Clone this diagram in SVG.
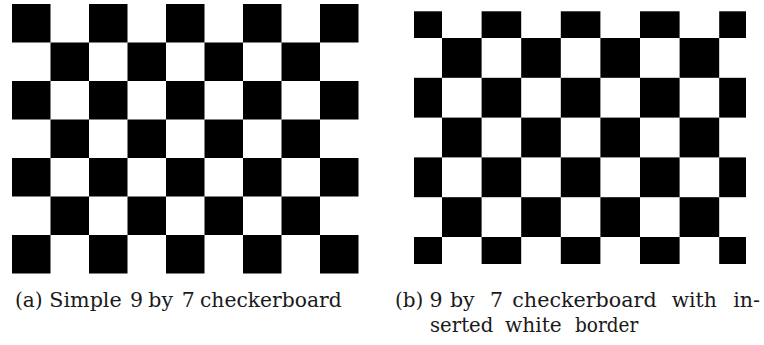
<svg xmlns="http://www.w3.org/2000/svg" width="764" height="345" viewBox="0 0 764 345">
<style>
.b{fill:#000}
.cap{font-family:"DejaVu Serif","Liberation Serif",serif;font-size:20.5px;fill:#1a1a1a}
</style>
<rect width="764" height="345" fill="#fff"/>
<g id="board-a">
<rect class="b" x="12" y="4" width="38.5" height="38.5"/><rect class="b" x="89" y="4" width="38.5" height="38.5"/><rect class="b" x="166" y="4" width="38.5" height="38.5"/><rect class="b" x="243" y="4" width="38.5" height="38.5"/><rect class="b" x="320" y="4" width="38.5" height="38.5"/>
<rect class="b" x="50.5" y="42.5" width="38.5" height="38.5"/><rect class="b" x="127.5" y="42.5" width="38.5" height="38.5"/><rect class="b" x="204.5" y="42.5" width="38.5" height="38.5"/><rect class="b" x="281.5" y="42.5" width="38.5" height="38.5"/>
<rect class="b" x="12" y="81" width="38.5" height="38.5"/><rect class="b" x="89" y="81" width="38.5" height="38.5"/><rect class="b" x="166" y="81" width="38.5" height="38.5"/><rect class="b" x="243" y="81" width="38.5" height="38.5"/><rect class="b" x="320" y="81" width="38.5" height="38.5"/>
<rect class="b" x="50.5" y="119.5" width="38.5" height="38.5"/><rect class="b" x="127.5" y="119.5" width="38.5" height="38.5"/><rect class="b" x="204.5" y="119.5" width="38.5" height="38.5"/><rect class="b" x="281.5" y="119.5" width="38.5" height="38.5"/>
<rect class="b" x="12" y="158" width="38.5" height="38.5"/><rect class="b" x="89" y="158" width="38.5" height="38.5"/><rect class="b" x="166" y="158" width="38.5" height="38.5"/><rect class="b" x="243" y="158" width="38.5" height="38.5"/><rect class="b" x="320" y="158" width="38.5" height="38.5"/>
<rect class="b" x="50.5" y="196.5" width="38.5" height="38.5"/><rect class="b" x="127.5" y="196.5" width="38.5" height="38.5"/><rect class="b" x="204.5" y="196.5" width="38.5" height="38.5"/><rect class="b" x="281.5" y="196.5" width="38.5" height="38.5"/>
<rect class="b" x="12" y="235" width="38.5" height="38.5"/><rect class="b" x="89" y="235" width="38.5" height="38.5"/><rect class="b" x="166" y="235" width="38.5" height="38.5"/><rect class="b" x="243" y="235" width="38.5" height="38.5"/><rect class="b" x="320" y="235" width="38.5" height="38.5"/>
</g>
<g id="board-b">
<rect class="b" x="414" y="11.3" width="28" height="26.7"/><rect class="b" x="481.6" y="11.3" width="39.6" height="26.7"/><rect class="b" x="560.8" y="11.3" width="39.6" height="26.7"/><rect class="b" x="640" y="11.3" width="39.6" height="26.7"/><rect class="b" x="719.2" y="11.3" width="26.8" height="26.7"/>
<rect class="b" x="442" y="38" width="39.6" height="39.8"/><rect class="b" x="521.2" y="38" width="39.6" height="39.8"/><rect class="b" x="600.4" y="38" width="39.6" height="39.8"/><rect class="b" x="679.6" y="38" width="39.6" height="39.8"/>
<rect class="b" x="414" y="77.8" width="28" height="39.8"/><rect class="b" x="481.6" y="77.8" width="39.6" height="39.8"/><rect class="b" x="560.8" y="77.8" width="39.6" height="39.8"/><rect class="b" x="640" y="77.8" width="39.6" height="39.8"/><rect class="b" x="719.2" y="77.8" width="26.8" height="39.8"/>
<rect class="b" x="442" y="117.6" width="39.6" height="39.8"/><rect class="b" x="521.2" y="117.6" width="39.6" height="39.8"/><rect class="b" x="600.4" y="117.6" width="39.6" height="39.8"/><rect class="b" x="679.6" y="117.6" width="39.6" height="39.8"/>
<rect class="b" x="414" y="157.4" width="28" height="39.8"/><rect class="b" x="481.6" y="157.4" width="39.6" height="39.8"/><rect class="b" x="560.8" y="157.4" width="39.6" height="39.8"/><rect class="b" x="640" y="157.4" width="39.6" height="39.8"/><rect class="b" x="719.2" y="157.4" width="26.8" height="39.8"/>
<rect class="b" x="442" y="197.2" width="39.6" height="39.8"/><rect class="b" x="521.2" y="197.2" width="39.6" height="39.8"/><rect class="b" x="600.4" y="197.2" width="39.6" height="39.8"/><rect class="b" x="679.6" y="197.2" width="39.6" height="39.8"/>
<rect class="b" x="414" y="237" width="28" height="27"/><rect class="b" x="481.6" y="237" width="39.6" height="27"/><rect class="b" x="560.8" y="237" width="39.6" height="27"/><rect class="b" x="640" y="237" width="39.6" height="27"/><rect class="b" x="719.2" y="237" width="26.8" height="27"/>
</g>
<g id="caption-a">
<text class="cap" x="15" y="307" textLength="27.7" lengthAdjust="spacingAndGlyphs">(a)</text>
<text class="cap" x="49.3" y="307" textLength="72.4" lengthAdjust="spacingAndGlyphs">Simple</text>
<text class="cap" x="130" y="307">9</text>
<text class="cap" x="148.3" y="307" textLength="24.7" lengthAdjust="spacingAndGlyphs">by</text>
<text class="cap" x="181.7" y="307">7</text>
<text class="cap" x="200" y="307" textLength="141.7" lengthAdjust="spacingAndGlyphs">checkerboard</text>
</g>
<g id="caption-b">
<text class="cap" x="395" y="307" textLength="28.3" lengthAdjust="spacingAndGlyphs">(b)</text>
<text class="cap" x="429.5" y="307">9</text>
<text class="cap" x="450" y="307" textLength="24.7" lengthAdjust="spacingAndGlyphs">by</text>
<text class="cap" x="490" y="307">7</text>
<text class="cap" x="512.3" y="307" textLength="144.4" lengthAdjust="spacingAndGlyphs">checkerboard</text>
<text class="cap" x="671.7" y="307" textLength="45" lengthAdjust="spacingAndGlyphs">with</text>
<text class="cap" x="760" y="307" text-anchor="end">in-</text>
<text class="cap" x="430" y="332" textLength="63.3" lengthAdjust="spacingAndGlyphs">serted</text>
<text class="cap" x="505" y="332" textLength="56.7" lengthAdjust="spacingAndGlyphs">white</text>
<text class="cap" x="575" y="332" textLength="63.3" lengthAdjust="spacingAndGlyphs">border</text>
</g>
</svg>
